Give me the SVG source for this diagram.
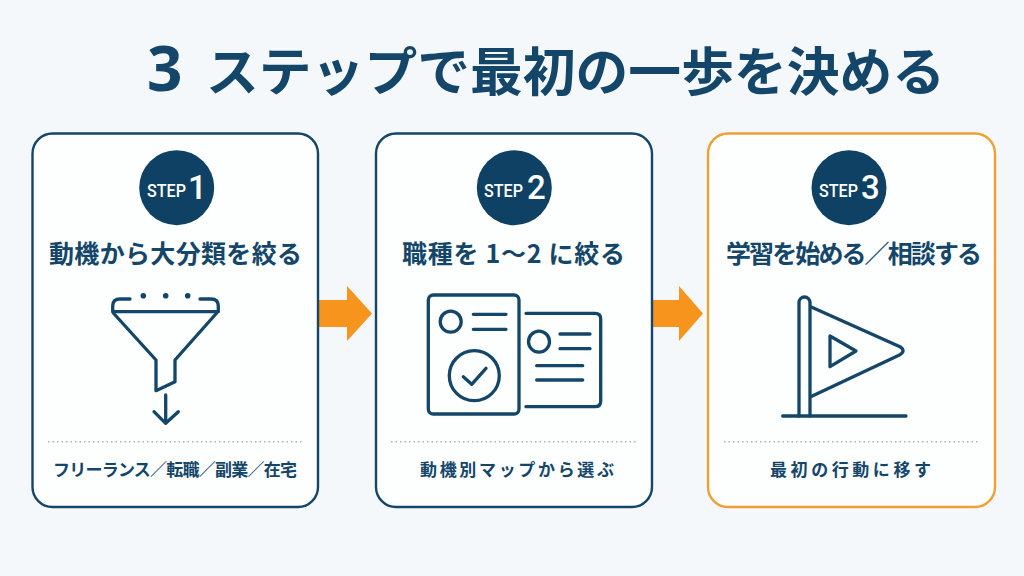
<svg xmlns="http://www.w3.org/2000/svg" width="1024" height="576" viewBox="0 0 1024 576">
<style>
text{font-family:"Noto Sans CJK JP","Noto Sans",sans-serif;fill:#14466a}
.title{font-size:52.800px;font-weight:700}
.three{font-family:"Noto Sans","Liberation Sans",sans-serif;font-size:62px;font-weight:700}
.head{font-size:25px;font-weight:700}
.sub{font-size:17px;font-weight:700}
.step{font-family:Roboto,"Liberation Sans",sans-serif;font-size:18px;font-weight:500;fill:#fff}
.num{font-family:Roboto,"Liberation Sans",sans-serif;font-size:33px;font-weight:500;fill:#fff}
.card{fill:#fdfefe;stroke:#14466a;stroke-width:2.400}
.card3{fill:#fdfefe;stroke:#f0a033;stroke-width:2.400}
.badge{fill:#0f4164}
.dots{stroke:#a9b6bf;stroke-width:1.500;stroke-dasharray:1.500 3;fill:none}
.ic{fill:none;stroke:#14466a;stroke-width:3.300;stroke-linecap:round;stroke-linejoin:round}
.arrow{fill:#f7941d}
</style>
<rect width="1024" height="576" fill="#f5f8fb"/>
<text class="title" x="147" y="91"><tspan class="three">3 </tspan><tspan x="206">ステップで最初の一歩を決める</tspan></text>
<g id="connectors">
<path class="arrow" d="M318 300H347V286L372 313.500L347 341V327H318Z"/>
<path class="arrow" d="M652.500 300H679V286L703 313.500L679 341V327H652.500Z"/>
</g>
<g id="step1">
<rect class="card" x="32.500" y="133.500" width="285.500" height="373.500" rx="20"/>
<circle class="badge" cx="176.700" cy="187.700" r="37.500"/>
<text class="step" x="147" y="197" textLength="39" lengthAdjust="spacingAndGlyphs">STEP</text>
<text class="num" x="188" y="198.500">1</text>
<text class="head" x="49" y="263" textLength="253" lengthAdjust="spacing">動機から大分類を絞る</text>
<g class="ic">
<path d="M130 299H120Q112.700 299 112.700 306V311.700H218.300V306Q218.300 299 211 299H200"/>
<path d="M113.300 313L156 360V390.700L175 381.700V360L216.700 313"/>
<path d="M165.700 395V423.300M154 411.700L165.700 423.300L178.300 411.700"/>
</g>
<circle cx="143.300" cy="295.700" r="2.800" fill="#14466a"/>
<circle cx="165.700" cy="295.700" r="2.800" fill="#14466a"/>
<circle cx="187.700" cy="295.700" r="2.800" fill="#14466a"/>
<path class="dots" d="M48 441.700H303"/>
<text class="sub" x="53" y="475.500" textLength="244" lengthAdjust="spacing">フリーランス／転職／副業／在宅</text>
</g>
<g id="step2">
<rect class="card" x="376" y="133.500" width="276" height="373.500" rx="20"/>
<circle class="badge" cx="514.300" cy="187.700" r="37.500"/>
<text class="step" x="484" y="197" textLength="39" lengthAdjust="spacingAndGlyphs">STEP</text>
<text class="num" x="527" y="198.500">2</text>
<text class="head" x="402" y="263" textLength="223" lengthAdjust="spacing">職種を 1〜2 に絞る</text>
<g class="ic">
<rect x="428.300" y="295" width="90.700" height="119" rx="5"/>
<circle cx="450.700" cy="321.700" r="10.500"/>
<path d="M473.300 314.300H506M473.300 329.300H506"/>
<circle cx="474.300" cy="375.700" r="25"/>
<path d="M463.300 376.700L471.700 384.300L486 368.300"/>
<path d="M526 313.300H595Q600.700 313.300 600.700 319V401Q600.700 406.700 595 406.700H526"/>
<circle cx="539" cy="341.700" r="10.500"/>
<path d="M560 334H590M560 348.700H590M536.700 365.700H582.700M536.700 380H582.700"/>
</g>
<path class="dots" d="M391 441.700H636"/>
<text class="sub" x="420" y="475.500" textLength="194" lengthAdjust="spacing">動機別マップから選ぶ</text>
</g>
<g id="step3">
<rect class="card3" x="708" y="133.500" width="287" height="373.500" rx="20"/>
<circle class="badge" cx="849" cy="187.700" r="37.500"/>
<text class="step" x="819" y="197" textLength="39" lengthAdjust="spacingAndGlyphs">STEP</text>
<text class="num" x="861" y="198.500">3</text>
<text class="head" x="726" y="263" textLength="256" lengthAdjust="spacing">学習を始める／相談する</text>
<g class="ic">
<path d="M799 416V302.500A5.500 5.500 0 0 1 810 302.500V416"/>
<path d="M782.700 416H906"/>
<path d="M810.700 306.700L900 346.700Q906 350.700 900 354.700L810.700 396.700"/>
<path d="M830 336L856 351L830 366.700Z"/>
</g>
<path class="dots" d="M724 441.700H980"/>
<text class="sub" x="770" y="475.500" textLength="161" lengthAdjust="spacing">最初の行動に移す</text>
</g>
</svg>
